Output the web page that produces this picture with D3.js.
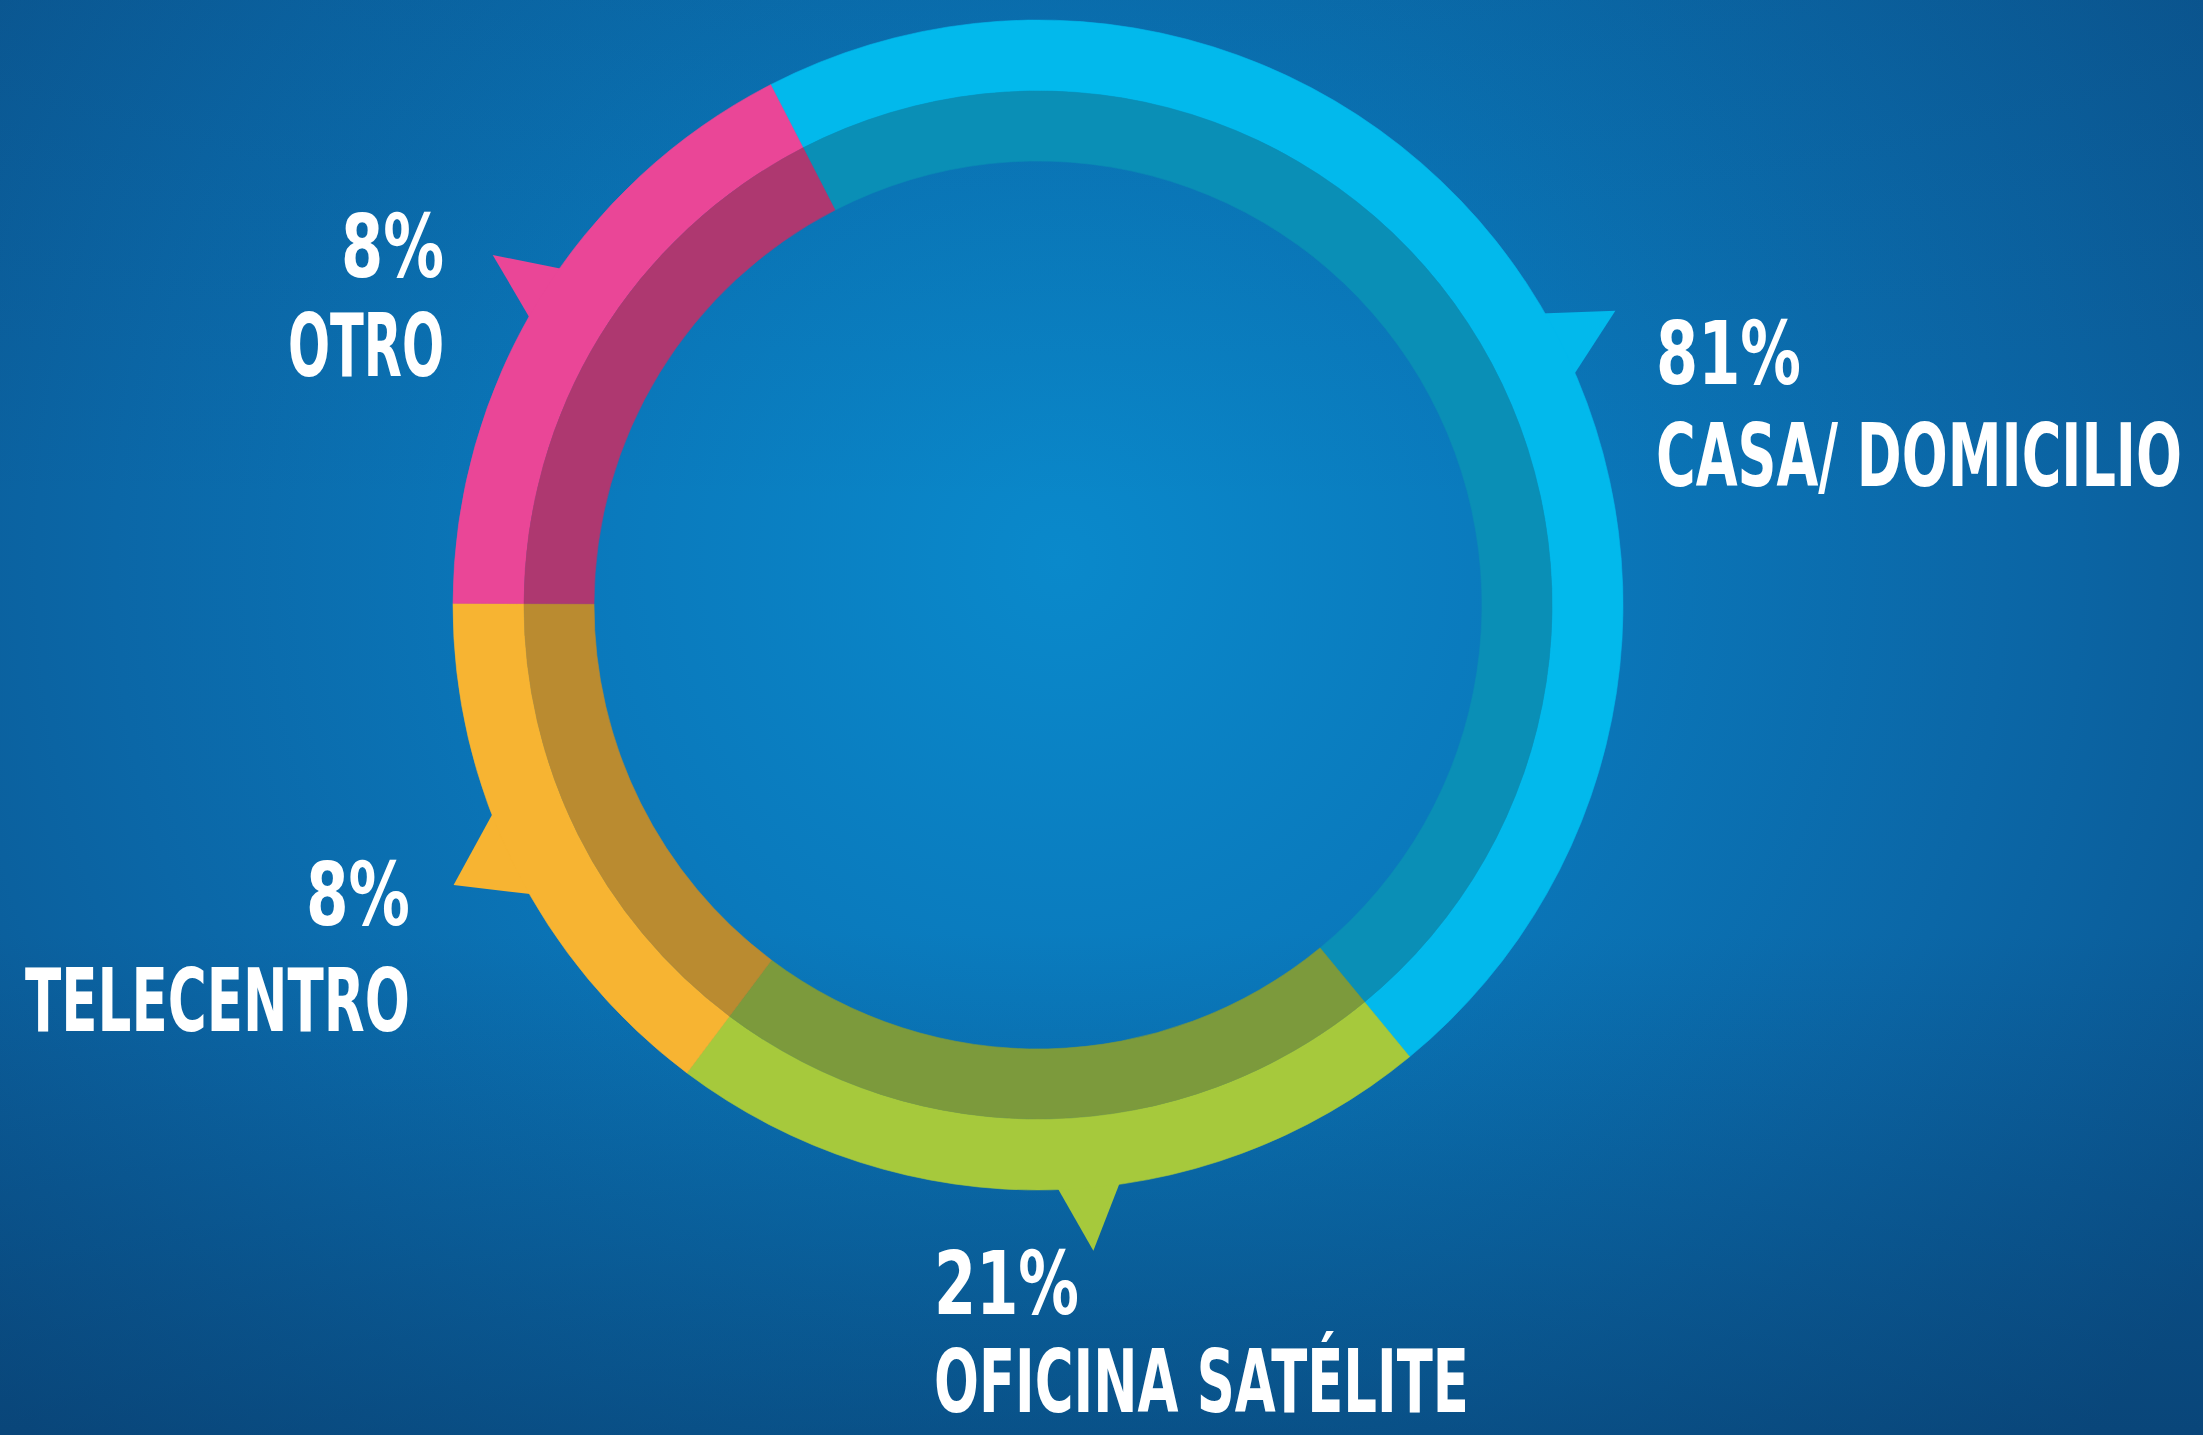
<!DOCTYPE html>
<html><head><meta charset="utf-8">
<script src="https://cdn.jsdelivr.net/npm/d3@7"></script>
<style>html,body{margin:0;padding:0;background:#0a69a8;overflow:hidden}</style>
</head><body><svg id="c" width="2203" height="1435"></svg>
<script>
// ---- data ----
const categories = ["CASA/ DOMICILIO", "OFICINA SATÉLITE", "TELECENTRO", "OTRO"];
const percentValues = [81, 21, 8, 8];
// share of the ring that each segment occupies as drawn (percent of the full circle)
const arcShares = [46.6, 21.2, 14.8, 17.4];
const ringStartDeg = -27.2;
const outerColors = ["#02b9ec", "#a6c93c", "#f7b432", "#ea4697"];
const innerColors = ["#0a8fb6", "#7c9a3c", "#ba8b30", "#ae3870"];
// speech-bubble pointers: base start / end and tip angle, degrees clockwise from 12 o'clock
const pointerBaseStart = [59.9, 171.8, 240.1, 299.3];
const pointerBaseEnd = [66.9, 178.2, 249.3, 305.3];
const pointerTipDeg = [63.0, 175.1, 244.4, 302.7];

// ---- layout ----
const W = 2203, H = 1435;
const cx = 1038, cy = 605;
const rOuter = 585, rMid = 514, rInner = 444, rTip = 648;
const labelLayout = [
  {x: 1656, anchor: "start", y1: 384, y2: 486, w1: 145, w2: 526},
  {x: 934,  anchor: "start", y1: 1314, y2: 1412, w1: 145, w2: 535},
  {x: 410,  anchor: "end",   y1: 925, y2: 1031, w1: 104, w2: 385},
  {x: 444,  anchor: "end",   y1: 277, y2: 376, w1: 103, w2: 156}
];
const fontSize = 88;

const svg = d3.select("#c");
const defs = svg.append("defs");
const grad = defs.append("radialGradient").attr("id", "bg")
  .attr("gradientUnits", "userSpaceOnUse")
  .attr("cx", 1060).attr("cy", 560).attr("r", 1350);
[[0, "#0a89cb"], [0.35, "#0a79bc"], [0.7, "#0b67a7"], [1, "#0b5792"]].forEach(s =>
  grad.append("stop").attr("offset", s[0]).attr("stop-color", s[1]));
const shade = defs.append("linearGradient").attr("id", "shade")
  .attr("x1", 0).attr("y1", 0).attr("x2", 0).attr("y2", 1);
[[0, "#062a52", 0.12], [0.35, "#062a52", 0], [0.65, "#062a52", 0], [1, "#062a52", 0.38]].forEach(s =>
  shade.append("stop").attr("offset", s[0]).attr("stop-color", s[1]).attr("stop-opacity", s[2]));
svg.append("rect").attr("width", W).attr("height", H).attr("fill", "url(#bg)");
svg.append("rect").attr("width", W).attr("height", H).attr("fill", "url(#shade)");

const deg = d3.scaleLinear().domain([0, 360]).range([0, 2 * Math.PI]);

const g = svg.append("g").attr("transform", `translate(${cx},${cy})`);

const data = categories.map((c, i) => ({
  name: c, pct: percentValues[i], share: arcShares[i],
  outer: outerColors[i], inner: innerColors[i],
  pb0: pointerBaseStart[i], pb1: pointerBaseEnd[i], pt: pointerTipDeg[i],
  lab: labelLayout[i]
}));

const pie = d3.pie().sort(null).value(d => d.share)
  .startAngle(deg(ringStartDeg)).endAngle(deg(ringStartDeg + 360));
const arcs = pie(data);

const outerArc = d3.arc().innerRadius(rMid).outerRadius(rOuter);
const innerArc = d3.arc().innerRadius(rInner).outerRadius(rMid);

// pointers (drawn first, same colour as the outer band)
g.selectAll("path.pointer").data(data).join("path")
  .attr("class", "pointer")
  .attr("fill", d => d.outer)
  .attr("d", d => {
    const p0 = d3.pointRadial(deg(d.pb0), rOuter - 4);
    const p1 = d3.pointRadial(deg(d.pt), rTip);
    const p2 = d3.pointRadial(deg(d.pb1), rOuter - 4);
    return d3.line()([p0, p1, p2]) + "Z";
  });

g.selectAll("path.outer").data(arcs).join("path")
  .attr("class", "outer").attr("fill", d => d.data.outer)
  .attr("stroke", d => d.data.outer).attr("stroke-width", 0.6)
  .attr("d", outerArc);
g.selectAll("path.inner").data(arcs).join("path")
  .attr("class", "inner").attr("fill", d => d.data.inner)
  .attr("stroke", d => d.data.inner).attr("stroke-width", 0.6)
  .attr("d", innerArc);

// labels: condensed by a horizontal scale so the real box matches the target width
const fam = "'Liberation Sans Narrow', 'DejaVu Sans Condensed', Roboto, sans-serif";
const labels = svg.append("g").attr("fill", "#ffffff")
  .attr("font-family", fam).attr("font-weight", 700).attr("font-size", fontSize);
function condensed(str, xLeft, yBase, width) {
  const t = labels.append("text").attr("x", 0).attr("y", 0).text(str);
  const natural = t.node().getComputedTextLength();
  const sx = width / natural;
  t.attr("transform", `translate(${xLeft},${yBase}) scale(${sx},1)`);
}
data.forEach(d => {
  const L = d.lab;
  const x1 = L.anchor === "end" ? L.x - L.w1 : L.x;
  const x2 = L.anchor === "end" ? L.x - L.w2 : L.x;
  condensed(d.pct + "%", x1, L.y1, L.w1);
  condensed(d.name, x2, L.y2, L.w2);
});
</script></body></html>
